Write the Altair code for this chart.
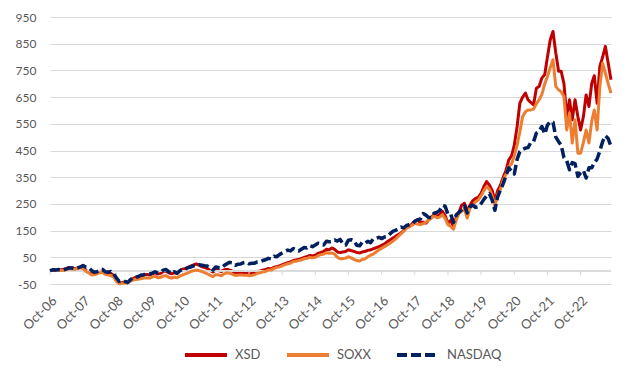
import altair as alt
import pandas as pd

# ---- data (monthly, % change since Oct-06) ----
series_names = ["XSD", "SOXX", "NASDAQ"]
series_colors = ["#C00000", "#ED7D31", "#002060"]

xsd = [
    0, 3, 2, 4, 3, 5, 8, 12, 10, 8, 10, 12,
    10, 0, -5, -12, -10, -9, -3, -1, -8, -9, -10, -18,
    -34, -46, -45, -42, -44, -38, -30, -25, -24, -20, -16, -14,
    -16, -12, -8, -13, -10, -3, -2, -8, -12, -8, -10, 0,
    5, 8, 12, 18, 22, 25, 20, 15, 12, 8, 0, -5,
    2, 0, -3, 3, 5, 2, -2, -8, -9, -10, -10, -9,
    -12, -11, -8, -3, -1, 2, 4, 8, 7, 12, 15, 18,
    22, 26, 30, 33, 38, 40, 42, 45, 50, 52, 57, 55,
    58, 65, 68, 72, 80, 78, 85, 80, 70, 68, 70, 72,
    78, 75, 72, 68, 66, 70, 72, 76, 78, 82, 86, 90,
    95, 100, 108, 115, 122, 128, 135, 141, 150, 160, 165, 175,
    185, 190, 180, 182, 178, 190, 200, 210, 203, 208, 222, 205,
    178, 188, 165, 200, 220, 245, 252, 225, 245, 262, 270, 275,
    290, 315, 334, 320, 300, 262, 300, 320, 350, 375, 415, 430,
    470, 540, 627, 650, 665, 640, 630, 621, 683, 690, 722, 734,
    800, 865, 896, 815, 747, 747, 700, 577, 640, 565, 640, 577,
    527, 577, 658, 615, 702, 730, 627, 765, 800, 840, 777, 715,
]

soxx = [
    0, 2, 0, 2, 0, 1, 5, 8, 6, 5, 9, 10,
    8, -3, -8, -16, -15, -12, -8, -6, -14, -16, -18, -24,
    -40, -49, -48, -46, -46, -40, -35, -33, -32, -30, -28, -27,
    -28, -24, -21, -27, -25, -20, -19, -25, -28, -24, -27, -20,
    -16, -12, -8, -3, 0, 2, 0, -3, -8, -12, -18, -22,
    -15, -16, -19, -12, -8, -10, -13, -18, -17, -16, -17, -17,
    -19, -18, -15, -10, -8, -5, -3, 2, 2, 8, 12, 14,
    18, 22, 26, 28, 34, 35, 38, 40, 45, 46, 50, 48,
    50, 56, 60, 62, 68, 65, 66, 62, 50, 45, 45, 47,
    52, 48, 42, 38, 36, 42, 44, 52, 58, 62, 70, 78,
    84, 90, 96, 103, 110, 118, 128, 138, 148, 159, 165, 170,
    178, 174, 172, 176, 182, 190, 196, 205, 198, 200, 210, 195,
    172, 165, 155, 190, 215, 222, 230, 197, 235, 245, 258, 265,
    280, 300, 315, 305, 280, 240, 285, 305, 340, 360, 390, 400,
    430, 470, 520, 577, 595, 602, 602, 605, 625, 640, 660, 700,
    727, 760, 790, 690, 677, 670, 652, 527, 590, 478, 565, 440,
    440, 480, 527, 478, 560, 602, 527, 690, 777, 740, 700, 665,
]

nasdaq = [
    0, 3, 2, 4, 2, 3, 7, 10, 10, 8, 10, 14,
    19, 13, 12, 1, -6, -4, 2, 5, -4, -6, -3, -12,
    -27, -40, -36, -40, -44, -35, -27, -25, -22, -16, -15, -10,
    -13, -9, -4, -9, -5, 2, 4, -4, -11, -4, -10, 0,
    6, 6, 12, 14, 18, 18, 22, 20, 18, 17, 9, 2,
    14, 11, 10, 19, 26, 31, 29, 20, 24, 25, 30, 32,
    26, 28, 28, 33, 34, 38, 41, 46, 44, 54, 52, 60,
    66, 72, 77, 74, 83, 78, 74, 80, 87, 85, 94, 90,
    96, 103, 101, 96, 110, 108, 109, 115, 111, 117, 102, 96,
    114, 116, 112, 95, 93, 106, 102, 110, 105, 119, 121, 125,
    120, 126, 128, 138, 147, 151, 156, 163, 160, 169, 172, 175,
    185, 191, 193, 214, 208, 199, 199, 215, 218, 225, 244, 241,
    210, 211, 181, 209, 219, 228, 243, 216, 239, 246, 237, 239,
    251, 267, 280, 288, 263, 226, 277, 302, 326, 355, 385, 373,
    362, 417, 446, 454, 459, 461, 480, 483, 515, 522, 540, 512,
    545, 558, 556, 500, 483, 470, 423, 412, 378, 405, 401, 353,
    366, 375, 347, 385, 385, 405, 418, 448, 484, 505, 495, 465,
]

y_ticks = [-50, 50, 150, 250, 350, 450, 550, 650, 750, 850, 950]
tick_years = list(range(2006, 2023))

months = pd.date_range("2006-10-01", periods=len(xsd), freq="MS")
wide = pd.DataFrame({"date": months, "XSD": xsd, "SOXX": soxx, "NASDAQ": nasdaq})
df = wide.melt("date", var_name="series", value_name="value")

tick_df = pd.DataFrame({"date": pd.to_datetime([f"{y}-10-01" for y in tick_years])})

FONT = "Lato"
LBL = "#595959"
GRID = "#d9d9d9"

x_domain = [alt.DateTime(year=2006, month=10, date=1), alt.DateTime(year=2023, month=9, date=1)]
x_scale = alt.Scale(domain=x_domain)
y_scale = alt.Scale(domain=[-50, 950], nice=False, zero=False)

legend_def = alt.Legend(
    title=None, orient="none", legendX=133, legendY=315, direction="horizontal",
    symbolType="stroke", symbolSize=1764, symbolStrokeWidth=4,
    labelFont=FONT, labelFontSize=13, labelColor=LBL, labelOffset=6,
    columnPadding=18,
)

color_enc = alt.Color("series:N", scale=alt.Scale(domain=series_names, range=series_colors), legend=legend_def)
dash_enc = alt.StrokeDash("series:N", scale=alt.Scale(domain=series_names, range=[[1, 0], [1, 0], [10, 4]]), legend=legend_def)

x_axis = alt.Axis(values=[alt.DateTime(year=y, month=10, date=1) for y in tick_years],
                  format="%b-%y", labelAngle=-45, grid=False, domain=False, ticks=False,
                  labelFont=FONT, labelFontSize=13, labelColor=LBL, labelPadding=10,
                  labelOverlap=False)
y_axis = alt.Axis(values=y_ticks, grid=True, gridColor=GRID, gridWidth=1, domain=False, ticks=False,
                  labelFont=FONT, labelFontSize=12, labelColor=LBL, labelPadding=14,
                  labelOverlap=False, labelExpr="'' + datum.value")
x_enc = alt.X("date:T", scale=x_scale, title=None, axis=x_axis)
y_enc = alt.Y("value:Q", scale=y_scale, title=None, axis=y_axis)

zero_line = alt.Chart(df).mark_rule(color=GRID, strokeWidth=1).encode(
    y=alt.YDatum(0, type="quantitative", scale=y_scale, axis=y_axis, title=None)
)

tick_marks = alt.Chart(tick_df).mark_rule(color=GRID, strokeWidth=1).encode(
    x=x_enc,
    y=alt.YDatum(0, type="quantitative", scale=y_scale, axis=y_axis, title=None),
    y2=alt.datum(-17),
)

def series_layer(name, width):
    return alt.Chart(df).transform_filter(alt.datum.series == name).mark_line(
        strokeWidth=width, strokeJoin="round"
    ).encode(x=x_enc, y=y_enc, color=color_enc, strokeDash=dash_enc)

chart = alt.layer(
    series_layer("XSD", 3),
    zero_line,
    tick_marks,
    series_layer("SOXX", 3),
    series_layer("NASDAQ", 3.5),
).properties(
    width=561, height=267,
    padding={"left": 42, "top": 9, "right": 21, "bottom": 84},
    autosize=alt.AutoSizeParams(type="none"),
).configure_view(stroke=None).configure_axis(labelOverlap=False)

chart.save("out.html", embed_options={"renderer": "svg", "actions": False})
